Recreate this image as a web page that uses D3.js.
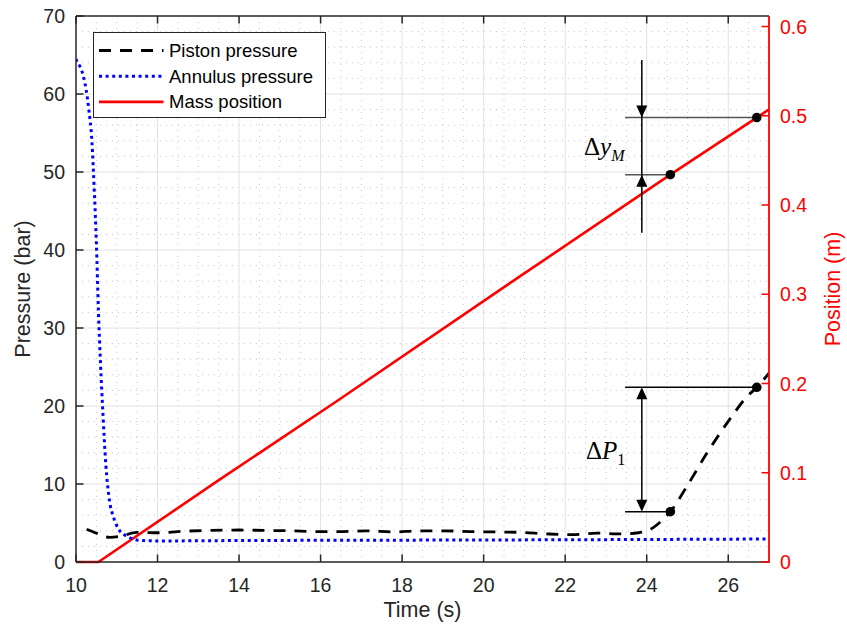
<!DOCTYPE html>
<html><head><meta charset="utf-8">
<script src="https://cdn.jsdelivr.net/npm/d3@7"></script>
<style>body{margin:0;background:#fff}svg{display:block;font-family:"Liberation Sans",Arial,sans-serif}</style>
</head><body><svg id="c" width="847" height="633"></svg>
<script>
// ---- data ----
const xTicks = [10,12,14,16,18,20,22,24,26];
const yLeftTicks = [0,10,20,30,40,50,60,70];
const yRightTicks = [0,0.1,0.2,0.3,0.4,0.5,0.6];
const legendLabels = ["Piston pressure","Annulus pressure","Mass position"];

const pistonTime = [10.26,10.5,10.83,11.1,11.49,12.06,12.5,13.2,14.0,14.6,15.25,15.9,16.55,17.13,17.8,18.4,19.0,19.67,20.3,20.9,21.55,22.16,22.78,23.39,23.8,24.0,24.16,24.35,24.58,24.98,25.47,25.97,26.46,26.7,27.0];
const pistonPressure = [4.2,3.7,3.15,3.3,3.8,3.75,3.9,4.05,4.1,4.05,4.0,3.9,3.9,4.0,3.85,4.0,4.0,3.9,3.85,3.8,3.6,3.5,3.7,3.6,3.75,4.0,4.4,5.2,6.45,9.65,13.9,17.8,21.2,22.4,24.2];

const annulusTime = [10.0,10.02,10.1,10.19,10.31,10.39,10.45,10.5,10.55,10.6,10.66,10.73,10.81,10.93,11.06,11.27,11.52,12,14,18,22,27];
const annulusPressure = [64.5,64.2,63.5,62.1,58.2,53.9,47.4,40.9,32.2,25.6,19.1,12.6,8.3,5.6,4.1,3.26,2.8,2.7,2.75,2.8,2.85,2.95];

const massTime = [10.0,10.55,13.53,16.44,20.5,24.58,26.7,27.0];
const massPosition = [0,0,0.0925,0.1815,0.308,0.434,0.498,0.507];

// annotation markers (data coords)
const pDots = [[24.58,6.45],[26.7,22.4]];          // pressure axis
const mDots = [[24.58,0.434],[26.7,0.498]];        // position axis
const annX = 23.88, annX0 = 23.47;

// ---- layout ----
const L=76, R=769, T=16, B=562;
const svg = d3.select("#c");
const x = d3.scaleLinear().domain([10,27]).range([L,R]);
const yL = d3.scaleLinear().domain([0,70]).range([B,T]);
const yR = d3.scaleLinear().domain([0,0.6118]).range([B,T]);

// grid
const g = svg.append("g");
const minorX = d3.range(10.5,27.01,0.5).filter(v=>Math.abs(v%2)>1e-6);
const minorY = d3.range(2,70,2).filter(v=>v%10!==0);
g.selectAll(".mx").data(minorX).join("line").attr("x1",d=>x(d)).attr("x2",d=>x(d)).attr("y1",T).attr("y2",B)
 .attr("stroke","#c8c8c8").attr("stroke-width",1).attr("stroke-dasharray","1,5");
g.selectAll(".my").data(minorY).join("line").attr("y1",d=>yL(d)).attr("y2",d=>yL(d)).attr("x1",L).attr("x2",R)
 .attr("stroke","#c8c8c8").attr("stroke-width",1).attr("stroke-dasharray","1,5");
g.selectAll(".Mx").data(xTicks.slice(1)).join("line").attr("x1",d=>x(d)).attr("x2",d=>x(d)).attr("y1",T).attr("y2",B)
 .attr("stroke","#e2e2e2").attr("stroke-width",1);
g.selectAll(".My").data(yLeftTicks.slice(1,-1)).join("line").attr("y1",d=>yL(d)).attr("y2",d=>yL(d)).attr("x1",L).attr("x2",R)
 .attr("stroke","#e2e2e2").attr("stroke-width",1);

// curves
const pistonData = pistonTime.map((t,i)=>[t,pistonPressure[i]]);
const annulusData = annulusTime.map((t,i)=>[t,annulusPressure[i]]);
const massData = massTime.map((t,i)=>[t,massPosition[i]]);
const lineP = d3.line().x(d=>x(d[0])).y(d=>yL(d[1])).curve(d3.curveMonotoneX);
const lineM = d3.line().x(d=>x(d[0])).y(d=>yR(d[1]));

svg.append("clipPath").attr("id","cp").append("rect").attr("x",L).attr("y",T).attr("width",R-L).attr("height",B-T+2);
const plot = svg.append("g").attr("clip-path","url(#cp)");
plot.append("path").datum(massData).attr("d",lineM).attr("fill","none").attr("stroke","#ff0000").attr("stroke-width",2.6);
plot.append("path").datum(annulusData).attr("d",lineP).attr("fill","none").attr("stroke","#0000ff").attr("stroke-width",3).attr("stroke-dasharray","3,3.6");
plot.append("path").datum(pistonData).attr("d",lineP).attr("fill","none").attr("stroke","#000").attr("stroke-width",2.8).attr("stroke-dasharray","12,9");

// annotations
const ann = svg.append("g");
function arrowHead(xp, yTip, dir){ // dir=+1 pointing down, -1 pointing up
  const h=12, w=5.5;
  ann.append("path").attr("d",`M${xp},${yTip} L${xp-w},${yTip-dir*h} L${xp+w},${yTip-dir*h} Z`).attr("fill","#000");
}
// upper: delta y_M
const uTop = yR(0.5625), uBot = yR(0.369);
const yM1 = yR(mDots[1][1]), yM0 = yR(mDots[0][1]);
ann.append("line").attr("x1",x(annX0)).attr("x2",x(mDots[1][0])).attr("y1",yM1).attr("y2",yM1).attr("stroke","#555").attr("stroke-width",1.5);
ann.append("line").attr("x1",x(annX0)).attr("x2",x(mDots[0][0])).attr("y1",yM0).attr("y2",yM0).attr("stroke","#555").attr("stroke-width",1.5);
ann.append("line").attr("x1",x(annX)).attr("x2",x(annX)).attr("y1",uTop).attr("y2",uBot).attr("stroke","#000").attr("stroke-width",1.5);
arrowHead(x(annX), yM1, 1);
arrowHead(x(annX), yM0, -1);
// lower: delta P1
const p1 = yL(pDots[1][1]), p0 = yL(pDots[0][1]);
ann.append("line").attr("x1",x(annX0)).attr("x2",x(pDots[1][0])).attr("y1",p1).attr("y2",p1).attr("stroke","#000").attr("stroke-width",1.5);
ann.append("line").attr("x1",x(annX0)).attr("x2",x(pDots[0][0])).attr("y1",p0).attr("y2",p0).attr("stroke","#000").attr("stroke-width",1.5);
ann.append("line").attr("x1",x(annX)).attr("x2",x(annX)).attr("y1",p1+4).attr("y2",p0-4).attr("stroke","#000").attr("stroke-width",1.5);
arrowHead(x(annX), p1, -1);
arrowHead(x(annX), p0, 1);
ann.selectAll(".pd").data(pDots).join("circle").attr("cx",d=>x(d[0])).attr("cy",d=>yL(d[1])).attr("r",4.8).attr("fill","#000");
ann.selectAll(".md").data(mDots).join("circle").attr("cx",d=>x(d[0])).attr("cy",d=>yR(d[1])).attr("r",4.8).attr("fill","#000");

const t1 = ann.append("text").attr("x",584).attr("y",155).attr("font-family","'Liberation Serif','Times New Roman',serif").attr("font-size",25).attr("fill","#000");
t1.append("tspan").text("Δ");
t1.append("tspan").attr("font-style","italic").text("y");
t1.append("tspan").attr("font-style","italic").attr("font-size",16).attr("dy",6).text("M");
const t2 = ann.append("text").attr("x",586).attr("y",459).attr("font-family","'Liberation Serif','Times New Roman',serif").attr("font-size",25).attr("fill","#000");
t2.append("tspan").text("Δ");
t2.append("tspan").attr("font-style","italic").text("P");
t2.append("tspan").attr("font-size",16).attr("dy",6).text("1");

// axes
const ax = svg.append("g").attr("font-size",19.5);
const dark="#262626";
ax.append("line").attr("x1",L).attr("x2",R).attr("y1",B).attr("y2",B).attr("stroke",dark).attr("stroke-width",1.5);
ax.append("line").attr("x1",L).attr("x2",R).attr("y1",T).attr("y2",T).attr("stroke",dark).attr("stroke-width",1.5);
ax.append("line").attr("x1",L).attr("x2",L).attr("y1",T).attr("y2",B).attr("stroke",dark).attr("stroke-width",1.5);
ax.append("line").attr("x1",R).attr("x2",R).attr("y1",T).attr("y2",B+1).attr("stroke","#ff0000").attr("stroke-width",1.8);
const tl=7.5;
ax.selectAll(".xtb").data(xTicks).join("line").attr("x1",d=>x(d)).attr("x2",d=>x(d)).attr("y1",B).attr("y2",B-tl).attr("stroke",dark).attr("stroke-width",1.5);
ax.selectAll(".xtt").data(xTicks).join("line").attr("x1",d=>x(d)).attr("x2",d=>x(d)).attr("y1",T).attr("y2",T+tl).attr("stroke",dark).attr("stroke-width",1.5);
ax.selectAll(".xl").data(xTicks).join("text").attr("x",d=>x(d)).attr("y",592).attr("text-anchor","middle").attr("fill",dark).text(d=>d);
ax.selectAll(".ytl").data(yLeftTicks).join("line").attr("x1",L).attr("x2",L+tl).attr("y1",d=>yL(d)).attr("y2",d=>yL(d)).attr("stroke",dark).attr("stroke-width",1.5);
ax.selectAll(".yl").data(yLeftTicks).join("text").attr("x",65).attr("y",d=>yL(d)+7).attr("text-anchor","end").attr("fill",dark).text(d=>d);
ax.selectAll(".ytr").data(yRightTicks).join("line").attr("x1",R).attr("x2",R-tl).attr("y1",d=>yR(d)).attr("y2",d=>yR(d)).attr("stroke","#ff0000").attr("stroke-width",1.5);
ax.selectAll(".yr").data(yRightTicks).join("text").attr("x",780).attr("y",d=>yR(d)+7).attr("text-anchor","start").attr("fill","#ff0000").text(d=>d===0?"0":d.toFixed(1));

svg.append("text").attr("x",(L+R)/2).attr("y",617).attr("text-anchor","middle").attr("font-size",21.5).attr("fill",dark).text("Time (s)");
svg.append("text").attr("transform",`translate(30,${(T+B)/2}) rotate(-90)`).attr("text-anchor","middle").attr("font-size",21.5).attr("fill",dark).text("Pressure (bar)");
svg.append("text").attr("transform",`translate(840,${(T+B)/2}) rotate(-90)`).attr("text-anchor","middle").attr("font-size",21.5).attr("fill","#ff0000").text("Position (m)");

// legend
const lg = svg.append("g");
lg.append("rect").attr("x",93.5).attr("y",32.5).attr("width",232).attr("height",85).attr("fill","#fff").attr("stroke","#262626").attr("stroke-width",1);
const legStyles = [{c:"#000",w:2.8,d:"12,9"},{c:"#0000ff",w:3,d:"3,3.6"},{c:"#ff0000",w:2.6,d:null}];
legendLabels.forEach((lab,i)=>{
  const yy = 50.5 + i*25.7;
  const ln = lg.append("line").attr("x1",99).attr("x2",163.5).attr("y1",yy).attr("y2",yy).attr("stroke",legStyles[i].c).attr("stroke-width",legStyles[i].w);
  if(legStyles[i].d) ln.attr("stroke-dasharray",legStyles[i].d);
  lg.append("text").attr("x",169).attr("y",yy+6.5).attr("font-size",18.5).attr("fill","#000").text(lab);
});
</script></body></html>
